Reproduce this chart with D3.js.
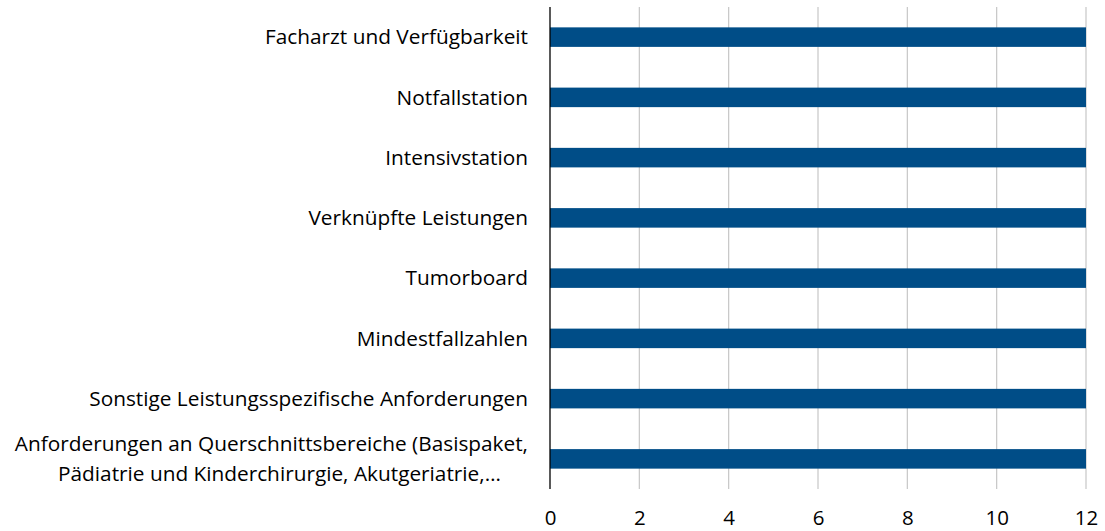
<!DOCTYPE html>
<html><head><meta charset="utf-8">
<script src="https://cdn.jsdelivr.net/npm/d3@7"></script>
<style>body{margin:0;background:#fff}svg{display:block}</style>
</head><body>
<svg id="c" width="1105" height="531"></svg>
<script>
const categories = [
  ["Facharzt und Verfügbarkeit"],
  ["Notfallstation"],
  ["Intensivstation"],
  ["Verknüpfte Leistungen"],
  ["Tumorboard"],
  ["Mindestfallzahlen"],
  ["Sonstige Leistungsspezifische Anforderungen"],
  ["Anforderungen an Querschnittsbereiche (Basispaket,", "Pädiatrie und Kinderchirurgie, Akutgeriatrie,…"]
];
const values = [12, 12, 12, 12, 12, 12, 12, 12];
const xTicks = [0, 2, 4, 6, 8, 10, 12];

(function () {
const svg = d3.select("#c");
const mLeft = 550, mRight = 1086, mTop = 7, mBottom = 489;
const font = "'Open Sans', sans-serif";
const fs = 20.8;

const x = d3.scaleLinear().domain([0, 12]).range([mLeft, mRight]);
const y = d3.scaleBand().domain(d3.range(categories.length)).range([mTop, mBottom]).paddingInner(0.676).paddingOuter(0.338);

svg.append("g").selectAll("line").data(xTicks.slice(1)).join("line")
  .attr("x1", d => x(d)).attr("x2", d => x(d))
  .attr("y1", mTop).attr("y2", mBottom)
  .attr("stroke", "#c6c6c6").attr("stroke-width", 1.2);

svg.append("g").selectAll("rect").data(values).join("rect")
  .attr("x", x(0)).attr("y", (d, i) => y(i))
  .attr("width", d => x(d) - x(0)).attr("height", y.bandwidth())
  .attr("fill", "#004d87");

svg.append("line").attr("x1", x(0)).attr("x2", x(0)).attr("y1", mTop).attr("y2", mBottom)
  .attr("stroke", "#000").attr("stroke-width", 1.3);

const xAxis = d3.axisBottom(x).tickValues(xTicks).tickSize(0).tickPadding(0);
const gx = svg.append("g").attr("transform", `translate(0,${mBottom})`).call(xAxis);
gx.select(".domain").remove();
gx.selectAll("text").attr("font-family", font).attr("font-size", 20.5).attr("fill", "#000")
  .attr("dy", null).attr("y", 36);

const labelX = mLeft - 22;
const lh = 30;
categories.forEach((lines, i) => {
  const cy = y(i) + y.bandwidth() / 2;
  const t = svg.append("text").attr("font-family", font).attr("font-size", fs).attr("fill", "#000");
  if (lines.length === 1) {
    t.attr("x", labelX).attr("y", cy).attr("dy", "0.35em").attr("text-anchor", "end").text(lines[0]);
  } else {
    const tmp = svg.append("text").attr("font-family", font).attr("font-size", fs).text(lines[0]);
    const w = tmp.node().getComputedTextLength();
    tmp.remove();
    const cx = labelX - w / 2;
    lines.forEach((ln, k) => {
      t.append("tspan").attr("x", k === 0 ? cx : cx + 8).attr("text-anchor", "middle")
        .attr("y", cy + (k - (lines.length - 1) / 2) * lh).attr("dy", "0.35em").text(ln);
    });
  }
});
})();
</script>
</body></html>
